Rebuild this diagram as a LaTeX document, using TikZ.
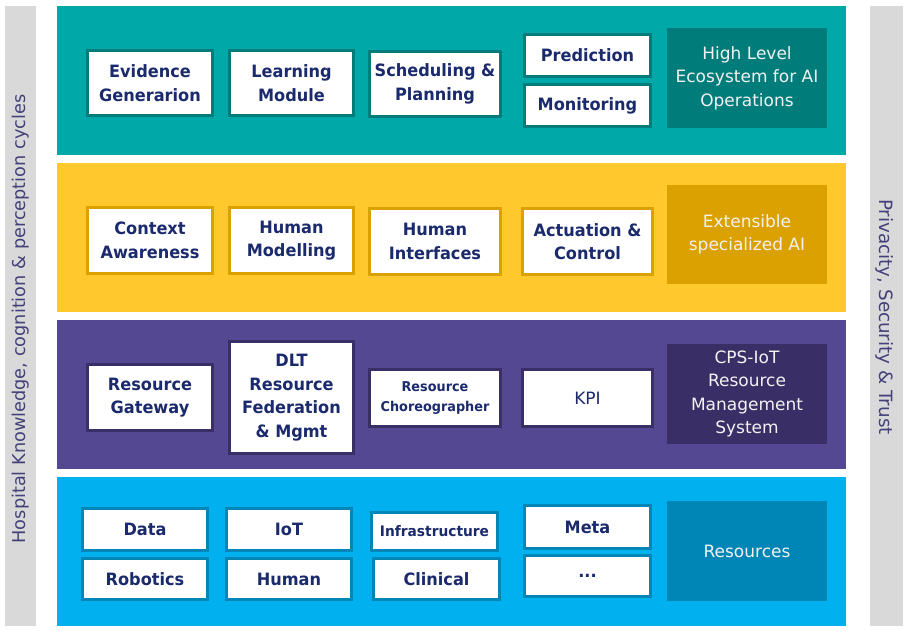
\documentclass[tikz,border=0pt]{standalone}
\usepackage{fontspec}
\setmainfont{DejaVu Sans}[BoldFeatures={FakeStretch=0.95}]

% palette
\definecolor{sidegray}{HTML}{D9D9D9}
\definecolor{sideink}{HTML}{45407A}
\definecolor{boxink}{HTML}{1A2A6C}
\definecolor{labink}{HTML}{F2F2F2}
\definecolor{tealband}{HTML}{00A9A8}
\definecolor{tealdark}{HTML}{007D7B}
\definecolor{yelband}{HTML}{FFC92E}
\definecolor{yeldark}{HTML}{DBA100}
\definecolor{purband}{HTML}{544893}
\definecolor{purdark}{HTML}{392F66}
\definecolor{blueband}{HTML}{00B0EF}
\definecolor{bluedark}{HTML}{0086B6}

\tikzset{
  band/.style={rectangle, inner sep=0pt, draw=none},
  sidebar/.style={rectangle, inner sep=0pt, draw=none, fill=sidegray},
  sidetext/.style={text=sideink, inner sep=0pt},
  itembox/.style={rectangle, fill=white, line width=3pt, inner sep=0pt, align=center,
    text=boxink, font=\bfseries\fontsize{17}{23.5}\selectfont},
  labelbox/.style={rectangle, inner sep=0pt, draw=none, align=center, text=labink,
    font=\fontsize{17}{23.5}\selectfont},
  tealitem/.style={itembox, draw=tealdark},
  yelitem/.style={itembox, draw=yeldark},
  puritem/.style={itembox, draw=purdark},
  blueitem/.style={itembox, draw=bluedark},
}

% bordered box given by its outer corners
\newcommand\blk[7]{\node[#6, minimum width={#4-#2-3}, minimum height={#5-#3-3}]
  (#1) at ({(#2+#4)/2},{(#3+#5)/2}) {#7};}
% filled area given by its corners
\newcommand\area[7]{\node[#6, minimum width={#4-#2}, minimum height={#5-#3}]
  (#1) at ({(#2+#4)/2},{(#3+#5)/2}) {#7};}

\begin{document}
\begin{tikzpicture}[x=1pt,y=-1pt]
\useasboundingbox (0,0) rectangle (913,631);

% side bars
\area{leftbar}{5}{6}{36}{626}{sidebar}{}
\area{rightbar}{870}{6}{903}{626}{sidebar}{}
\node[sidetext, rotate=90, font=\fontsize{17.7}{20}\selectfont] (lefttext) at (21,319)
  {Hospital Knowledge, cognition \& perception cycles};
\node[sidetext, rotate=-90, font=\fontsize{18.3}{20}\selectfont] (righttext) at (885,317)
  {Privacity, Security \& Trust};

% layer bands
\area{tealL}{57}{6}{846}{155}{band, fill=tealband}{}
\area{yelL}{57}{163}{846}{312}{band, fill=yelband}{}
\area{purL}{57}{320}{846}{469}{band, fill=purband}{}
\area{blueL}{57}{477}{846}{626}{band, fill=blueband}{}

% high level AI layer
\blk{evid}{86}{49}{214}{117}{tealitem}{Evidence\\Generarion}
\blk{learn}{228}{49}{355}{117}{tealitem}{Learning\\Module}
\blk{sched}{368}{50}{502}{118}{tealitem}{Scheduling \&\\Planning}
\blk{pred}{523}{33}{652}{78}{tealitem}{Prediction}
\blk{monit}{523}{83}{652}{128}{tealitem}{Monitoring}
\area{hlabel}{667}{28}{827}{128}{labelbox, fill=tealdark}{High Level\\Ecosystem for AI\\Operations}

% specialized AI layer
\blk{ctx}{86}{206}{214}{275}{yelitem}{Context\\Awareness}
\blk{hmod}{228}{206}{355}{275}{yelitem}{Human\\Modelling}
\blk{hint}{368}{207}{502}{276}{yelitem}{Human\\Interfaces}
\blk{act}{521}{207}{654}{276}{yelitem}{Actuation \&\\Control}
\area{ylabel}{667}{185}{827}{284}{labelbox, fill=yeldark}{Extensible\\specialized AI}

% resource management layer
\blk{gate}{86}{363}{214}{432}{puritem}{Resource\\Gateway}
\blk{dlt}{228}{340}{355}{455}{puritem}{DLT\\Resource\\Federation\\\& Mgmt}
\blk{chor}{368}{368}{502}{428}{puritem, font=\bfseries\fontsize{13.5}{19.5}\selectfont}{Resource\\Choreographer}
\blk{kpi}{521}{368}{654}{428}{puritem, font=\fontsize{17}{23.5}\selectfont}{KPI}
\area{plabel}{667}{344}{827}{444}{labelbox, fill=purdark}{CPS-IoT\\Resource\\Management\\System}

% resources layer
\blk{data}{81}{507}{209}{552}{blueitem}{Data}
\blk{iot}{225}{507}{353}{552}{blueitem}{IoT}
\blk{infra}{370}{511}{499}{552}{blueitem, font=\bfseries\fontsize{14.5}{19.5}\selectfont}{Infrastructure}
\blk{meta}{523}{504}{652}{550}{blueitem}{Meta}
\blk{robot}{81}{557}{209}{601}{blueitem}{Robotics}
\blk{human}{225}{557}{353}{601}{blueitem}{Human}
\blk{clin}{372}{557}{501}{601}{blueitem}{Clinical}
\blk{more}{523}{554}{652}{598}{blueitem}{...}
\area{blabel}{667}{501}{827}{601}{labelbox, fill=bluedark}{Resources}

\end{tikzpicture}
\end{document}
